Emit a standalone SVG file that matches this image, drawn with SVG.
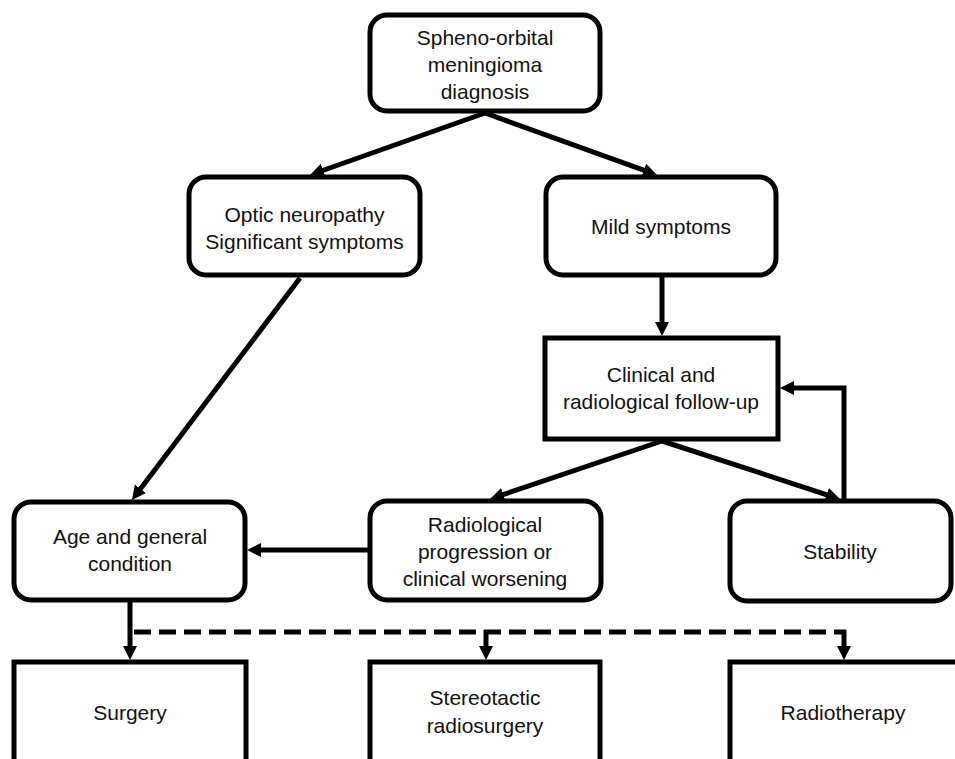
<svg xmlns="http://www.w3.org/2000/svg" width="955" height="759" viewBox="0 0 955 759">
<style>
.box{fill:#fff;stroke:#000;stroke-width:5}
.t{font-family:"Liberation Sans",Arial,sans-serif;font-size:21px;fill:#111;text-anchor:middle}
.c{fill:none;stroke:#000;stroke-width:5}
.d{fill:none;stroke:#000;stroke-width:5;stroke-dasharray:17 8}
</style>
<defs>
<marker id="ah" markerUnits="userSpaceOnUse" markerWidth="16" markerHeight="16" refX="2" refY="7" orient="auto">
<path d="M0,0 L14,7 L0,14 z" fill="#000"/>
</marker>
</defs>
<rect width="955" height="759" fill="#fff"/>
<g id="connectors">
<line class="c" x1="485" y1="113" x2="321.3" y2="171" marker-end="url(#ah)"/>
<line class="c" x1="485" y1="113" x2="645.7" y2="170.9" marker-end="url(#ah)"/>
<line class="c" x1="662" y1="277" x2="662" y2="324" marker-end="url(#ah)"/>
<line class="c" x1="300" y1="278" x2="139.2" y2="490.4" marker-end="url(#ah)"/>
<line class="c" x1="662" y1="441" x2="501.4" y2="495.2" marker-end="url(#ah)"/>
<line class="c" x1="662" y1="441" x2="828.6" y2="495.3" marker-end="url(#ah)"/>
<polyline class="c" points="844,499 844,388 792,388" marker-end="url(#ah)"/>
<line class="c" x1="368" y1="550" x2="259" y2="550" marker-end="url(#ah)"/>
<line class="c" x1="130" y1="602" x2="130" y2="648" marker-end="url(#ah)"/>
<line class="d" x1="134" y1="632" x2="846" y2="632"/>
<line class="c" x1="486" y1="630" x2="486" y2="648" marker-end="url(#ah)"/>
<line class="c" x1="844" y1="630" x2="844" y2="648" marker-end="url(#ah)"/>
</g>
<g id="n-top">
<rect class="box" x="370" y="15" width="230" height="96" rx="17"/>
<text class="t" x="485" y="45">Spheno-orbital</text>
<text class="t" x="485" y="72">meningioma</text>
<text class="t" x="485" y="99">diagnosis</text>
</g>
<g id="n-optic">
<rect class="box" x="189" y="177" width="231" height="98" rx="17"/>
<text class="t" x="304.5" y="222">Optic neuropathy</text>
<text class="t" x="304.5" y="249">Significant symptoms</text>
</g>
<g id="n-mild">
<rect class="box" x="546" y="177" width="230" height="98" rx="17"/>
<text class="t" x="661" y="234">Mild symptoms</text>
</g>
<g id="n-followup">
<rect class="box" x="545" y="338" width="233" height="101"/>
<text class="t" x="661" y="382">Clinical and</text>
<text class="t" x="661" y="409">radiological follow-up</text>
</g>
<g id="n-age">
<rect class="box" x="14" y="502" width="231" height="98" rx="17"/>
<text class="t" x="130" y="544">Age and general</text>
<text class="t" x="130" y="571">condition</text>
</g>
<g id="n-progression">
<rect class="box" x="370" y="501" width="231" height="99" rx="17"/>
<text class="t" x="485" y="532">Radiological</text>
<text class="t" x="485" y="559">progression or</text>
<text class="t" x="485" y="586">clinical worsening</text>
</g>
<g id="n-stability">
<rect class="box" x="730" y="501" width="221" height="100" rx="17"/>
<text class="t" x="840" y="559">Stability</text>
</g>
<g id="n-surgery">
<rect class="box" x="14" y="662" width="232" height="120"/>
<text class="t" x="130" y="720">Surgery</text>
</g>
<g id="n-srs">
<rect class="box" x="370" y="662" width="230" height="120"/>
<text class="t" x="485" y="705">Stereotactic</text>
<text class="t" x="485" y="733">radiosurgery</text>
</g>
<g id="n-rt">
<rect class="box" x="730" y="662" width="240" height="120"/>
<text class="t" x="843" y="720">Radiotherapy</text>
</g>
</svg>
